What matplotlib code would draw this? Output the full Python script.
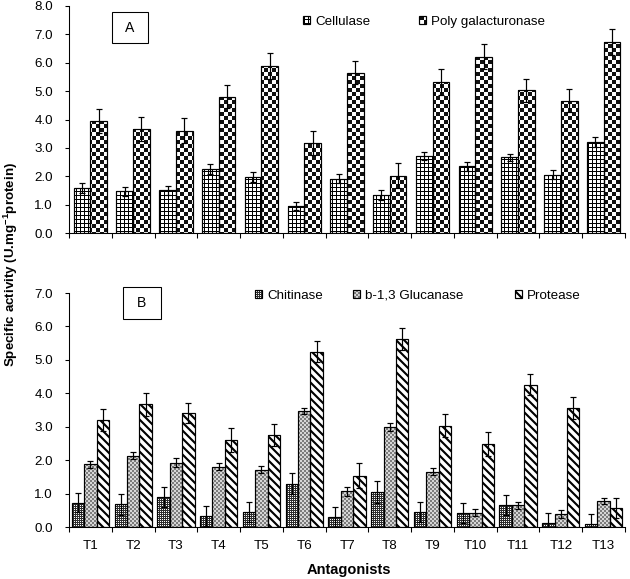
import numpy as np
import matplotlib
matplotlib.use('Agg')
import matplotlib.pyplot as plt
import matplotlib.hatch as mhatch
from matplotlib.path import Path
from matplotlib.patches import Patch, Rectangle
from matplotlib.legend_handler import HandlerTuple

# ---------------- data ----------------
antagonists = ['T1', 'T2', 'T3', 'T4', 'T5', 'T6', 'T7', 'T8', 'T9', 'T10', 'T11', 'T12', 'T13']

cellulase = [1.58, 1.47, 1.50, 2.25, 1.96, 0.94, 1.91, 1.33, 2.72, 2.35, 2.67, 2.05, 3.20]
cellulase_err = [0.18, 0.15, 0.17, 0.18, 0.18, 0.14, 0.16, 0.18, 0.15, 0.15, 0.12, 0.16, 0.18]
poly_gal = [3.95, 3.66, 3.61, 4.81, 5.89, 3.17, 5.65, 2.02, 5.33, 6.22, 5.03, 4.66, 6.72]
poly_gal_err = [0.42, 0.42, 0.43, 0.41, 0.45, 0.41, 0.41, 0.45, 0.45, 0.43, 0.40, 0.41, 0.46]

chitinase = [0.73, 0.68, 0.90, 0.34, 0.45, 1.30, 0.30, 1.06, 0.45, 0.42, 0.67, 0.13, 0.10]
chitinase_err = [0.29, 0.32, 0.30, 0.30, 0.30, 0.32, 0.30, 0.33, 0.30, 0.30, 0.30, 0.30, 0.30]
glucanase = [1.87, 2.13, 1.92, 1.80, 1.72, 3.47, 1.07, 2.99, 1.66, 0.43, 0.65, 0.39, 0.78]
glucanase_err = [0.11, 0.10, 0.13, 0.10, 0.10, 0.10, 0.13, 0.13, 0.10, 0.10, 0.10, 0.13, 0.10]
protease = [3.20, 3.67, 3.42, 2.60, 2.75, 5.25, 1.54, 5.63, 3.03, 2.49, 4.26, 3.56, 0.57]
protease_err = [0.32, 0.35, 0.30, 0.35, 0.32, 0.32, 0.36, 0.33, 0.35, 0.36, 0.32, 0.32, 0.30]

# ---------------- style ----------------
DPI = 96
W, H = 630, 579
plt.rcParams['font.family'] = ['Liberation Sans', 'DejaVu Sans']
plt.rcParams['mathtext.default'] = 'regular'
plt.rcParams['hatch.linewidth'] = 0.0

# custom pixel-aligned fill patterns (hatch tile = DPI pixels)
TILE = DPI


def _rect(x, y, w, h):
    return np.array([[x, y], [x + w, y], [x + w, y + h], [x, y + h]], float) / TILE


def grid_polys(step=4):
    polys = []
    for k in range(0, TILE, step):
        polys.append(_rect(k, 0, 1, TILE))
        for j in range(0, TILE, step):
            polys.append(_rect(k + 1, j, step - 1, 1))
    return polys


def checker_polys(step):
    n = TILE // step
    return [_rect(i * step, j * step, step, step)
            for i in range(n) for j in range(n) if (i + j) % 2 == 0]


def dot_polys(step=2, size=1):
    return [_rect(i, j, size, size)
            for i in range(0, TILE, step) for j in range(0, TILE, step)]


def stripe_polys(period=8, width=3.0):
    polys = []
    for c in range(-2 * period, 2 * TILE + 2 * period, period):
        polys.append(np.array([[c + 10 - width / 2, -10], [c + 10 + width / 2, -10],
                               [c - TILE - 10 + width / 2, TILE + 10],
                               [c - TILE - 10 - width / 2, TILE + 10]], float) / TILE)
    return polys


def make_hatch(char, polys):
    class _H(mhatch.HatchPatternBase):
        def __init__(self, hatch, density):
            self.num_vertices = sum(len(p) + 1 for p in polys) if char in hatch else 0

        def set_vertices_and_codes(self, vertices, codes):
            i = 0
            for p in polys:
                n = len(p)
                vertices[i:i + n] = p
                vertices[i + n] = p[0]
                codes[i] = Path.MOVETO
                codes[i + 1:i + n] = Path.LINETO
                codes[i + n] = Path.CLOSEPOLY
                i += n + 1
    return _H


mhatch._hatch_types = [
    make_hatch('o', grid_polys(4)),        # cellulase grid
    make_hatch('O', checker_polys(4)),     # poly galacturonase checker
    make_hatch('.', dot_polys(2, 1)),      # chitinase
    make_hatch('*', checker_polys(2)),     # glucanase
    make_hatch('x', stripe_polys(8, 3.0)),  # protease
]

# series styles: (face, pattern colour, hatch char)
styles = {
    'Cellulase': ('white', 'black', 'o'),
    'Poly galacturonase': ('white', '#111111', 'O'),
    'Chitinase': ('#2e2e2e', 'white', '.'),
    'b-1,3 Glucanase': ('#d6d6d6', '#7c7c7c', '*'),
    'Protease': ('white', 'black', 'x'),
}

fig = plt.figure(figsize=(W / DPI, H / DPI), dpi=DPI)
axA = fig.add_axes([69 / W, 1 - 233 / H, 556 / W, 227 / H])
axB = fig.add_axes([69 / W, 1 - 527 / H, 556 / W, 234 / H])

x = np.arange(len(antagonists))


def draw_series(ax, xpos, vals, errs, name, width):
    face, pc, hch = styles[name]
    ax.bar(xpos, vals, width, color=face, edgecolor=pc, linewidth=0, hatch=hch, zorder=2)
    ax.bar(xpos, vals, width, fill=False, edgecolor='black', linewidth=0.9, zorder=3)
    ax.errorbar(xpos, vals, yerr=errs, fmt='none', ecolor='black', elinewidth=0.9,
                capsize=2.4, capthick=0.9, zorder=4)


def legend_handle(name):
    face, pc, hch = styles[name]
    return (Patch(facecolor=face, edgecolor=pc, linewidth=0, hatch=hch),
            Patch(fill=False, edgecolor='black', linewidth=0.9))


# panel A
wA = 0.39
draw_series(axA, x - wA / 2, cellulase, cellulase_err, 'Cellulase', wA)
draw_series(axA, x + wA / 2, poly_gal, poly_gal_err, 'Poly galacturonase', wA)
axA.set_ylim(0, 8)
axA.set_yticks(np.arange(0, 9, 1))
axA.set_yticklabels([f'{v:.1f}' for v in np.arange(0, 9, 1)])

# panel B
wB = 0.29
draw_series(axB, x - wB, chitinase, chitinase_err, 'Chitinase', wB)
draw_series(axB, x, glucanase, glucanase_err, 'b-1,3 Glucanase', wB)
draw_series(axB, x + wB, protease, protease_err, 'Protease', wB)
axB.set_ylim(0, 7)
axB.set_yticks(np.arange(0, 8, 1))
axB.set_yticklabels([f'{v:.1f}' for v in np.arange(0, 8, 1)])

for ax in (axA, axB):
    ax.set_xlim(-0.5, len(antagonists) - 0.5)
    ax.spines['top'].set_visible(False)
    ax.spines['right'].set_visible(False)
    for s in ('left', 'bottom'):
        ax.spines[s].set_linewidth(0.8)
    ax.set_xticks(x)
    ax.set_xticks(np.arange(-0.5, len(antagonists), 1), minor=True)
    ax.tick_params(axis='x', which='major', length=0, pad=10, labelsize=10)
    ax.tick_params(axis='x', which='minor', length=3.8, width=0.8, direction='out')
    ax.tick_params(axis='y', length=3, width=0.8, direction='out', pad=9, labelsize=10)
    ax.patch.set_visible(False)

axA.set_xticklabels([])
axB.set_xticklabels(antagonists)

# legends (one per entry, placed at the icon positions)
hmap = {tuple: HandlerTuple(ndivide=1, pad=0)}


def put_legend(name, xpx, ypx):
    lg = fig.legend(handles=[legend_handle(name)], labels=[name], loc='center left',
                    bbox_to_anchor=(xpx / W, 1 - ypx / H), frameon=False, borderpad=0,
                    borderaxespad=0, handlelength=0.55, handleheight=0.55,
                    handletextpad=0.35, fontsize=10, handler_map=hmap)
    return lg


put_legend('Cellulase', 303, 22)
put_legend('Poly galacturonase', 419, 22)
put_legend('Chitinase', 255, 296)
put_legend('b-1,3 Glucanase', 353, 296)
put_legend('Protease', 515, 296)

# panel letter boxes
for lab, (x0, y0, x1, y1) in {'A': (112, 12, 148, 43), 'B': (123, 287, 161, 319)}.items():
    fig.add_artist(Rectangle((x0 / W, 1 - y1 / H), (x1 - x0) / W, (y1 - y0) / H,
                             transform=fig.transFigure, fill=False, edgecolor='black',
                             linewidth=0.8))
    fig.text((x0 + x1) / 2 / W, 1 - (y0 + y1) / 2 / H, lab, ha='center', va='center',
             fontsize=10.5)

# axis titles
fig.text(11 / W, 1 - 265 / H, 'Specific activity (U.mg$^{-1}$protein)', rotation=90,
         ha='center', va='center', fontsize=10, fontweight='bold')
fig.text(349 / W, 1 - 570 / H, 'Antagonists', ha='center', va='center', fontsize=11,
         fontweight='bold')

fig.savefig('out.png', dpi=DPI)
